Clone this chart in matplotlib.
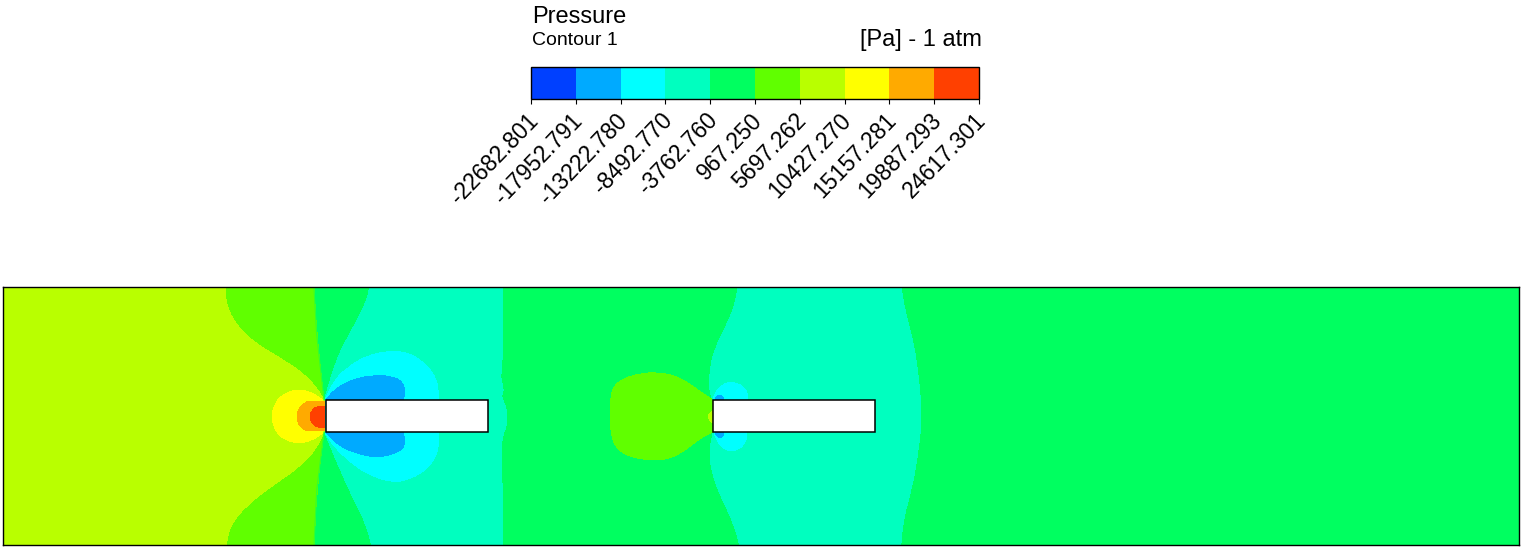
"""Pressure contour around two plates, redrawn from the picture."""

import matplotlib

matplotlib.use("Agg")
import matplotlib.pyplot as plt
from matplotlib.cm import ScalarMappable
from matplotlib.colors import BoundaryNorm, ListedColormap
from matplotlib.patches import PathPatch
from matplotlib.path import Path
from matplotlib.transforms import ScaledTranslation

plt.rcParams["font.family"] = ["Liberation Sans", "DejaVu Sans"]

# Legend levels and colours
levels = [-22682.801, -17952.791, -13222.780, -8492.770, -3762.760, 967.250,
          5697.262, 10427.270, 15157.281, 19887.293, 24617.301]
level_labels = ["-22682.801", "-17952.791", "-13222.780", "-8492.770", "-3762.760", "967.250",
                "5697.262", "10427.270", "15157.281", "19887.293", "24617.301"]
band_colors = ["#0040ff", "#00aaff", "#00ffff", "#00ffbf", "#00ff60",
               "#60ff00", "#b9ff00", "#ffff00", "#ffaa00", "#ff4000"]

# Domain and plates (picture pixels)
domain_x = [3, 1519]
domain_y = [287, 545]
plates = [(325.5, 487.5), (713, 874.5)]
plate_y = (399.7, 432.2)

# Contour outlines. A repeated point keeps a sharp corner.
light_green_1 = [(2, 286), (2, 286), (314, 286), (314, 286), (316.7, 335), (324, 400), (324, 400), (326, 416), (324, 432), (324, 432),
                 (316.7, 490), (314, 546), (314, 546), (2, 546), (2, 546)]
lime_1 = [(2, 286), (2, 286), (225, 286), (225, 286), (226, 305), (236, 325), (253, 342), (280, 358), (303, 373), (316.7, 388), (324, 400), (324, 400),
          (326, 416), (324, 431.7), (324, 431.7), (316.7, 448), (300, 466.7), (273, 485), (246.7, 505), (230, 525), (226, 546), (226, 546), (2, 546), (2, 546)]
yellow_1 = [(324, 401), (324, 401), (313, 393), (300, 389.5), (287, 392), (276, 400.7), (271, 416.7), (276, 432.7), (287, 441), (300, 443.3), (313, 440), (324, 432), (324, 432)]
orange_1 = [(326, 401.7), (326, 401.7), (307, 401.7), (307, 401.7), (299, 407), (296.5, 416.7), (299, 426), (307, 431), (307, 431), (326, 431), (326, 431)]
red_1 = [(326, 406.7), (326, 406.7), (317, 406), (311.5, 410.7), (309.7, 416.7), (311.5, 422.7), (317, 427.5), (326, 428), (326, 428)]
teal_1 = [(370, 286), (370, 286), (366.7, 301.7), (353, 328), (336.7, 358), (325, 398), (325, 398), (325, 433), (325, 433), (336.7, 461.7), (353, 498), (366.7, 525), (371.7, 546), (371.7, 546),
          (502.7, 546), (502.7, 546), (502.7, 498), (501, 458), (501.7, 436.7), (507.3, 425), (506.7, 408), (500.7, 396.7), (504, 390), (500, 376.7), (502, 371.7), (502.7, 318), (502.7, 286), (502.7, 286)]
cyan_1 = [(325, 400), (325, 400), (333.3, 381.7), (346.7, 368), (366.7, 355.7), (390, 350.7), (410, 353), (427.7, 365.7), (437.7, 381.7), (438.3, 400), (438.3, 400),
          (438.3, 433), (438.3, 433), (438.3, 451.7), (427.7, 469), (410, 479), (393, 482.7), (366.7, 474), (346.7, 459), (333, 445), (325, 433), (325, 433)]
blue_1_top = [(326, 400), (326, 400), (335, 389), (353, 379), (376.7, 375), (393, 376.7), (402.7, 382), (405.3, 393), (402.7, 400), (402.7, 400)]
blue_1_bottom = [(326, 432.3), (326, 432.3), (335, 442.7), (353, 452.7), (376.7, 457.7), (393, 454), (402.7, 449), (405, 441.7), (403.3, 432.7), (403.3, 432.7)]

teal_2 = [(738.3, 286), (738.3, 286), (735, 305), (726.7, 325), (715, 348.3), (710, 368.3), (709.3, 391.7), (713.3, 400), (713.3, 400), (713.3, 431.7), (713.3, 431.7), (709.3, 451.7), (711.7, 471.7),
          (720, 495), (733.3, 521.7), (740, 546), (740, 546), (900.7, 546), (900.7, 546), (903.3, 518.3), (911.7, 488.3), (918.3, 451.7), (921.7, 415), (918.3, 375), (913.3, 341.7), (905, 311.7), (900.7, 286), (900.7, 286)]
light_green_2 = [(713.3, 400), (713.3, 400), (700, 391.7), (686.7, 381.7), (673, 375), (656.7, 372.5), (640, 373.5), (622, 379), (613, 387.3), (610.7, 398.3), (609.7, 416.7),
                 (611.7, 439), (619, 451), (633, 457.7), (653, 460.3), (670, 458.7), (686.7, 449.3), (700, 438), (713.3, 431.7), (713.3, 431.7)]
lime_2 = [(713.3, 410), (713.3, 410), (709.3, 413.3), (707.7, 416.7), (709.3, 420), (713.3, 423.3), (713.3, 423.3)]
cyan_2_top = [(712.7, 400), (712.7, 400), (715, 393.3), (721.7, 384.7), (731.7, 381.7), (742.7, 385.7), (747.7, 393.3), (747.7, 400), (747.7, 400)]
cyan_2_bottom = [(714, 432.7), (714, 432.7), (716.7, 440), (721.7, 447.7), (730, 451.3), (739.3, 449.3), (746, 441.7), (746.7, 432.7), (746.7, 432.7)]
blue_2_top = [(715, 400), (715, 400), (716.7, 396.3), (720, 395), (722.7, 396.7), (724, 400), (724, 400)]
blue_2_bottom = [(715, 432.7), (715, 432.7), (717.3, 437), (720.7, 438), (723.3, 435.3), (724, 432.7), (724, 432.7)]

# thin seam where the light green band nearly closes
seam_top = [(314, 288), (316.7, 335), (324, 400)]
seam_bottom = [(324, 432), (316.7, 490), (314, 545)]
seam_color = "#30ff30"

# painted back to front, each with its band index
regions = [(light_green_1, 5), (lime_1, 6), (yellow_1, 7), (orange_1, 8), (red_1, 9),
           (teal_1, 3), (cyan_1, 2), (blue_1_top, 1), (blue_1_bottom, 1),
           (teal_2, 3), (light_green_2, 5), (lime_2, 6), (cyan_2_top, 2), (cyan_2_bottom, 2),
           (blue_2_top, 1), (blue_2_bottom, 1)]


def outline_path(points):
    # closed curve: each traced point is a quadratic control point
    n = len(points)
    mid = lambda a, b: ((a[0] + b[0]) / 2, (a[1] + b[1]) / 2)
    verts = [mid(points[-1], points[0])]
    codes = [Path.MOVETO]
    for i in range(n):
        verts += [points[i], mid(points[i], points[(i + 1) % n])]
        codes += [Path.CURVE3, Path.CURVE3]
    verts.append(verts[0])
    codes.append(Path.CLOSEPOLY)
    return Path(verts, codes)


W, H = 1524, 554
fig = plt.figure(figsize=(W / 100, H / 100), dpi=100)

# %% Contour panel
ax = fig.add_axes([domain_x[0] / W, 1 - domain_y[1] / H, (domain_x[1] - domain_x[0]) / W, (domain_y[1] - domain_y[0]) / H])
ax.set_xlim(domain_x)
ax.set_ylim(domain_y[1], domain_y[0])
ax.set_facecolor(band_colors[4])
ax.set_xticks([])
ax.set_yticks([])
for spine in ax.spines.values():
    spine.set_linewidth(1.0)

for outline, band in regions:
    ax.add_patch(PathPatch(outline_path(outline), facecolor=band_colors[band], lw=0, antialiased=False))

for seam in (seam_top, seam_bottom):
    ax.plot([p[0] for p in seam], [p[1] for p in seam], color=seam_color, lw=0.8)

for x0, x1 in plates:
    ax.fill([x0, x1, x1, x0], [plate_y[0], plate_y[0], plate_y[1], plate_y[1]],
            facecolor="white", edgecolor="black", lw=1.1)

# %% Legend
cax = fig.add_axes([531 / W, 1 - 99 / H, 448 / W, 32 / H])
cmap = ListedColormap(band_colors)
norm = BoundaryNorm(levels, cmap.N)
cbar = fig.colorbar(ScalarMappable(norm=norm, cmap=cmap), cax=cax, orientation="horizontal",
                    spacing="proportional", ticks=levels)
cbar.ax.set_xticklabels(level_labels, rotation=46, ha="right", va="top", rotation_mode="anchor", fontsize=16.5)
cbar.ax.tick_params(axis="x", length=3.6, width=0.8, pad=5)
cbar.ax.minorticks_off()
cbar.outline.set_linewidth(1.0)
shift = ScaledTranslation(-5 / 100, 2 / 100, fig.dpi_scale_trans)
for label in cbar.ax.get_xticklabels():
    label.set_transform(label.get_transform() + shift)

fig.text(532 / W, 1 - 23 / H, "Pressure", fontsize=17, color="black")
fig.text(532 / W, 1 - 45 / H, "Contour 1", fontsize=14, color="black")
fig.text(982 / W, 1 - 46 / H, "[Pa] - 1 atm", fontsize=17, color="black", ha="right")

fig.savefig("out.png", dpi=100)
